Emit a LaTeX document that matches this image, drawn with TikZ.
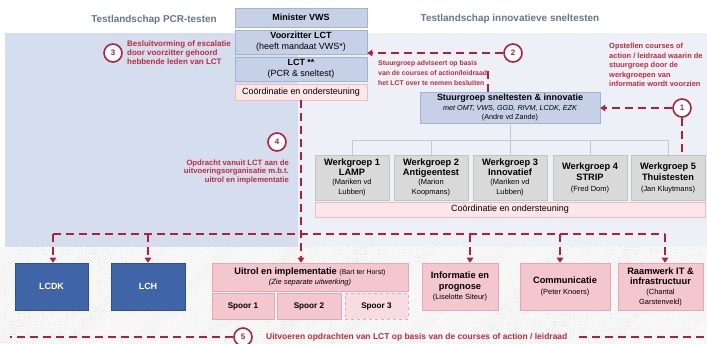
\documentclass[tikz,border=0pt]{standalone}
\usepackage{fontspec}
\setmainfont{Liberation Sans}
\usetikzlibrary{patterns,arrows.meta,calc}

\definecolor{panelL}{HTML}{D5DEEE}
\definecolor{panelR}{HTML}{EDF0F6}
\definecolor{boxblue}{HTML}{C6D0E6}
\definecolor{boxblueline}{HTML}{A3B3D2}
\definecolor{pinklight}{HTML}{FCE6E8}
\definecolor{pinklightline}{HTML}{F0BCC4}
\definecolor{pinkbox}{HTML}{F4C6CE}
\definecolor{pinkboxline}{HTML}{E6A8B4}
\definecolor{pinkpale}{HTML}{F9DCE1}
\definecolor{wggray}{HTML}{D9D9D9}
\definecolor{wgline}{HTML}{C4C4C4}
\definecolor{navy}{HTML}{4064A8}
\definecolor{navyline}{HTML}{2F4F8E}
\definecolor{redline}{HTML}{B22038}
\definecolor{redtext}{HTML}{C02A3E}
\definecolor{titlegray}{HTML}{66768C}
\definecolor{treegray}{HTML}{C3C8D2}

\newcommand{\fsz}[2]{\fontsize{#1}{#2}\selectfont}

\begin{document}
\begin{tikzpicture}[x=1bp,y=-1bp,
 box/.style={inner sep=0pt, align=center, line width=0.6bp},
 bluebox/.style={box, draw=boxblueline, fill=boxblue, minimum width=132bp, font=\fsz{9}{11}},
 coordbox/.style={box, draw=pinklightline, fill=pinklight, font=\fsz{9}{11}},
 wgbox/.style={box, draw=wgline, fill=wggray, minimum width=74bp, minimum height=45bp, font=\fsz{9.3}{9.5}},
 pinkbox/.style={box, draw=pinkboxline, fill=pinkbox, font=\fsz{9.3}{10.5}},
 navybox/.style={box, draw=navyline, fill=navy, text=white, minimum width=73bp, minimum height=47bp, font=\bfseries\fsz{9}{11}},
 numc/.style={circle, draw=redline, line width=1.6bp, fill=white, minimum size=18bp, inner sep=0pt, text=redline, font=\bfseries\fsz{8}{8}},
 note/.style={text=redtext, font=\bfseries\fsz{7.4}{9}, inner sep=0pt, align=left},
 reddash/.style={draw=redline, line width=2.3bp, dash pattern=on 8bp off 5bp},
 redarrow/.style={reddash, -{Triangle[width=6.5bp,length=5bp]}},
 tree/.style={draw=treegray, line width=0.8bp},
 ttl/.style={text=titlegray, font=\bfseries\fsz{10}{12}, inner sep=0pt}
]
\useasboundingbox (0,0) rectangle (707,343);
% backgrounds
\fill[panelL] (5,33) rectangle (298,247);
\fill[panelR] (298,33) rectangle (707,247);
\fill[white] (0,247) rectangle (707,343);
\fill[pattern=north east lines, pattern color=black!11] (0,247) rectangle (707,343);

% titles
\node[ttl] (t1) at (154,20) {Testlandschap PCR-testen};
\node[ttl] (t2) at (510,19) {Testlandschap innovatieve sneltesten};

% top column
\node[bluebox, minimum height=19bp] (min) at (301,17.5) {\bfseries Minister VWS};
\node[bluebox, minimum height=24bp] (voor) at (301,42) {\textbf{Voorzitter LCT}\\(heeft mandaat VWS*)};
\node[bluebox, minimum height=24bp] (lct) at (301,69) {\textbf{LCT **}\\(PCR \& sneltest)};
\node[coordbox, minimum width=132bp, minimum height=16bp] (co1) at (301,92) {Co\"ordinatie en ondersteuning};

% stuurgroep
\node[box, draw=boxblueline, fill=boxblue, minimum width=180bp, minimum height=31bp, font=\fsz{9}{9.5}] (stuur) at (510,107.5)
  {\textbf{Stuurgroep sneltesten \& innovatie}\\{\itshape\fsz{7.25}{9.5}met OMT, VWS, GGD, RIVM, LCDK, EZK}\\{\fsz{7.25}{9.5}(Andre vd Zande)}};

% werkgroepen
\node[wgbox] (wg1) at (352,177.5) {\textbf{Werkgroep 1}\\\textbf{LAMP}\\{\fsz{7.5}{9.5}(Mariken vd}\\{\fsz{7.5}{9.5}Lubben)}};
\node[wgbox] (wg2) at (431,177.5) {\textbf{Werkgroep 2}\\\textbf{Antigeentest}\\{\fsz{7.5}{9.5}(Marion}\\{\fsz{7.5}{9.5}Koopmans)}};
\node[wgbox] (wg3) at (510,177.5) {\textbf{Werkgroep 3}\\\textbf{Innovatief}\\{\fsz{7.5}{9.5}(Mariken vd}\\{\fsz{7.5}{9.5}Lubben)}};
\node[wgbox] (wg4) at (590,177.5) {\textbf{Werkgroep 4}\\[1.5bp]\textbf{STRIP}\\[1.5bp]{\fsz{7.5}{9.5}(Fred Dom)}};
\node[wgbox] (wg5) at (668,177.5) {\textbf{Werkgroep 5}\\[1.5bp]\textbf{Thuistesten}\\[1.5bp]{\fsz{7.5}{9.5}(Jan Kluytmans)}};
\node[coordbox, minimum width=390bp, minimum height=15bp] (co2) at (510,209.5) {Co\"ordinatie en ondersteuning};

% tree
\coordinate (tr) at (510,140);
\draw[tree] (stuur.south) -- (tr);
\draw[tree] (wg1.north) -- (wg1.north |- tr) -- (wg5.north |- tr) -- (wg5.north);
\draw[tree] (wg2.north) -- (wg2.north |- tr);
\draw[tree] (wg3.north) -- (wg3.north |- tr);
\draw[tree] (wg4.north) -- (wg4.north |- tr);

% bottom boxes
\node[navybox] (lcdk) at (51.5,286.5) {LCDK};
\node[navybox, minimum width=74bp] (lch) at (148,286.5) {LCH};
\node[pinkbox, minimum width=196bp, minimum height=28bp] (uit) at (310,277)
  {\textbf{Uitrol en implementatie} {\fsz{7}{10}(Bart ter Horst)}\\{\itshape\fsz{7.5}{10}(Zie separate uitwerking)}};
\node[pinkbox, minimum width=62bp, minimum height=26bp, font=\bfseries\fsz{8.2}{10}] (sp1) at (243,306) {Spoor 1};
\node[pinkbox, minimum width=64bp, minimum height=26bp, font=\bfseries\fsz{8.2}{10}] (sp2) at (309,306) {Spoor 2};
\node[pinkbox, fill=pinkpale, dashed, minimum width=63bp, minimum height=26bp, font=\bfseries\fsz{8.2}{10}] (sp3) at (376.5,306) {Spoor 3};
\node[pinkbox, minimum width=76bp, minimum height=47bp] (info) at (460,286.5)
  {\textbf{Informatie en}\\\textbf{prognose}\\{\fsz{7.5}{10.5}(Liselotte Siteur)}};
\node[pinkbox, minimum width=90bp, minimum height=47bp] (comm) at (565,286.5)
  {\textbf{Communicatie}\\{\fsz{7.5}{10.5}(Peter Knoers)}};
\node[pinkbox, minimum width=85bp, minimum height=47bp, font=\fsz{9.3}{10}] (raam) at (660.5,286.5)
  {\textbf{Raamwerk IT \&}\\\textbf{infrastructuur}\\{\fsz{7.5}{9}(Chantal}\\{\fsz{7.5}{9}Garstenveld)}};

% number circles and notes
\node[numc] (c3) at (113,53) {3};
\node[note, anchor=west, font=\bfseries\fsz{8}{9}] (n3) at (127,53) {Besluitvorming of escalatie\\door voorzitter gehoord\\hebbende leden van LCT};
\node[numc] (c2) at (513,53) {2};
\node[note, anchor=west, font=\bfseries\fsz{6.9}{10}] (n2) at (378,73.5) {Stuurgroep adviseert op basis\\van de courses of action/leidraad\\het LCT over te nemen besluiten};
\node[numc] (c1) at (682,108) {1};
\node[note, anchor=north west, font=\bfseries\fsz{7.5}{9.5}] (n1) at (609,43) {Opstellen courses of\\action / leidraad waarin de\\stuurgroep door de\\werkgroepen van\\informatie wordt voorzien};
\node[numc] (c4) at (277,142) {4};
\node[note, anchor=east, align=right, font=\bfseries\fsz{7.7}{9}] (n4) at (289,172) {Opdracht vanuit LCT aan de\\uitvoeringsorganisatie m.b.t.\\uitrol en implementatie};
\node[numc] (c5) at (243,337) {5};
\node[note, anchor=west, font=\bfseries\fsz{8.5}{9}] (n5) at (266,337) {Uitvoeren opdrachten van LCT op basis van de courses of action / leidraad};

% red connectors
\draw[redarrow] (c2.west) -- (c2 -| voor.east);
\draw[redarrow] (c1.west) -- (c1 -| stuur.east);
\draw[reddash] (c1.south) -- (c1 |- wg5.north);
\draw[reddash] (stuur.north -| 488,0) -- (488,70);
\draw[redarrow] (co1.south) -- (co1.south |- uit.north);

\coordinate (hl) at (53,234);
\coordinate (hr) at (665,234);
\coordinate (d3) at (470,234);
\coordinate (d4) at (560,234);
\draw[reddash] (hl) -- (hr);
\draw[redarrow] (hl) -- (hl |- lcdk.north);
\draw[redarrow] (lch.north |- hl) -- (lch.north);
\draw[redarrow] (d3) -- (d3 |- info.north);
\draw[redarrow] (d4) -- (d4 |- comm.north);
\draw[redarrow] (hr) -- (hr |- raam.north);

\coordinate (b5l) at (10,337);
\coordinate (b5r) at (579,337);
\coordinate (b5e) at (707,337);
\draw[reddash] (c5.west) -- (b5l);
\draw[reddash] (b5r) -- (b5e);
\end{tikzpicture}
\end{document}
